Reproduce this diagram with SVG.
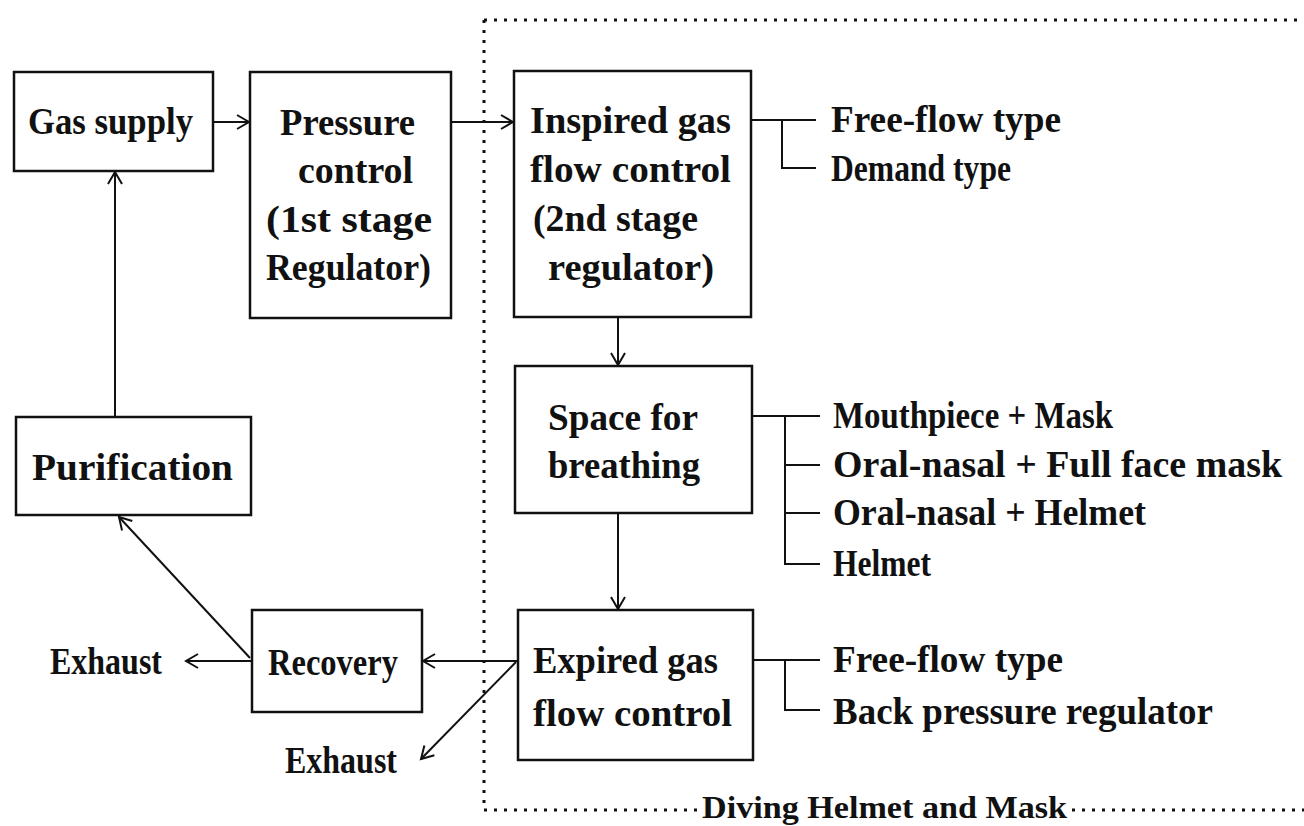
<svg xmlns="http://www.w3.org/2000/svg" width="1304" height="826" viewBox="0 0 1304 826">
<style>
.box{fill:none;stroke:#111;stroke-width:2.5}
.con{fill:none;stroke:#111;stroke-width:2}
.dot{fill:none;stroke:#111;stroke-width:3;stroke-dasharray:3 7}
text{font-family:"Liberation Serif","DejaVu Serif",serif;font-weight:bold;font-size:37px;fill:#111}
.cap{font-size:32px}
</style>
<defs>
<marker id="ah" markerUnits="userSpaceOnUse" markerWidth="16" markerHeight="18" refX="13" refY="8" orient="auto">
<path d="M1,1 L13,8 L1,15" fill="none" stroke="#111" stroke-width="2"/>
</marker>
</defs>
<rect width="1304" height="826" fill="#fff"/>
<g id="boundary">
<path class="dot" d="M484,20 H1304"/>
<path class="dot" d="M484,20 V810"/>
<path class="dot" d="M484,810 H698"/>
<path class="dot" d="M1072,810 H1304"/>
<text class="cap" x="702" y="818" textLength="365" lengthAdjust="spacingAndGlyphs">Diving Helmet and Mask</text>
</g>
<g id="connectors">
<line class="con" x1="213" y1="122" x2="249" y2="122" marker-end="url(#ah)"/>
<line class="con" x1="451" y1="122" x2="513" y2="122" marker-end="url(#ah)"/>
<line class="con" x1="618" y1="317" x2="618" y2="365" marker-end="url(#ah)"/>
<line class="con" x1="618" y1="513" x2="618" y2="609" marker-end="url(#ah)"/>
<line class="con" x1="517" y1="661" x2="423" y2="661" marker-end="url(#ah)"/>
<line class="con" x1="252" y1="661" x2="186" y2="661" marker-end="url(#ah)"/>
<line class="con" x1="516" y1="662" x2="421" y2="759" marker-end="url(#ah)"/>
<line class="con" x1="250" y1="658" x2="119" y2="517" marker-end="url(#ah)"/>
<line class="con" x1="115" y1="417" x2="115" y2="172" marker-end="url(#ah)"/>
<path class="con" d="M751,120 H816 M782,120 V168 H816"/>
<path class="con" d="M752,416 H820 M785,416 V564 H820 M785,465 H820 M785,513 H820"/>
<path class="con" d="M753,660 H820 M785,660 V710 H820"/>
</g>
<g id="gas-supply">
<rect class="box" x="14" y="72" width="199" height="99"/>
<text x="28" y="134" textLength="165" lengthAdjust="spacingAndGlyphs">Gas supply</text>
</g>
<g id="pressure-control">
<rect class="box" x="250" y="72" width="201" height="246"/>
<text x="280" y="135" textLength="135" lengthAdjust="spacingAndGlyphs">Pressure</text>
<text x="298" y="183" textLength="115" lengthAdjust="spacingAndGlyphs">control</text>
<text x="266" y="232" textLength="166" lengthAdjust="spacingAndGlyphs">(1st stage</text>
<text x="266" y="280" textLength="165" lengthAdjust="spacingAndGlyphs">Regulator)</text>
</g>
<g id="inspired-gas">
<rect class="box" x="514" y="71" width="237" height="246"/>
<text x="530" y="133" textLength="201" lengthAdjust="spacingAndGlyphs">Inspired gas</text>
<text x="530" y="182" textLength="201" lengthAdjust="spacingAndGlyphs">flow control</text>
<text x="533" y="231" textLength="165" lengthAdjust="spacingAndGlyphs">(2nd stage</text>
<text x="548" y="280" textLength="166" lengthAdjust="spacingAndGlyphs">regulator)</text>
</g>
<g id="inspired-types">
<text x="831" y="132" textLength="230" lengthAdjust="spacingAndGlyphs">Free-flow type</text>
<text x="831" y="181" textLength="180" lengthAdjust="spacingAndGlyphs">Demand type</text>
</g>
<g id="space-breathing">
<rect class="box" x="515" y="366" width="237" height="147"/>
<text x="548" y="430" textLength="150" lengthAdjust="spacingAndGlyphs">Space for</text>
<text x="548" y="478" textLength="152" lengthAdjust="spacingAndGlyphs">breathing</text>
</g>
<g id="space-types">
<text x="833" y="428" textLength="280" lengthAdjust="spacingAndGlyphs">Mouthpiece + Mask</text>
<text x="833" y="477" textLength="449" lengthAdjust="spacingAndGlyphs">Oral-nasal + Full face mask</text>
<text x="833" y="525" textLength="313" lengthAdjust="spacingAndGlyphs">Oral-nasal + Helmet</text>
<text x="833" y="576" textLength="98" lengthAdjust="spacingAndGlyphs">Helmet</text>
</g>
<g id="expired-gas">
<rect class="box" x="518" y="610" width="235" height="150"/>
<text x="533" y="673" textLength="185" lengthAdjust="spacingAndGlyphs">Expired gas</text>
<text x="533" y="726" textLength="199" lengthAdjust="spacingAndGlyphs">flow control</text>
</g>
<g id="expired-types">
<text x="833" y="672" textLength="230" lengthAdjust="spacingAndGlyphs">Free-flow type</text>
<text x="833" y="724" textLength="380" lengthAdjust="spacingAndGlyphs">Back pressure regulator</text>
</g>
<g id="recovery">
<rect class="box" x="252" y="610" width="170" height="102"/>
<text x="268" y="675" textLength="130" lengthAdjust="spacingAndGlyphs">Recovery</text>
</g>
<g id="exhaust-left">
<text x="50" y="674" textLength="112" lengthAdjust="spacingAndGlyphs">Exhaust</text>
</g>
<g id="exhaust-bottom">
<text x="285" y="773" textLength="112" lengthAdjust="spacingAndGlyphs">Exhaust</text>
</g>
<g id="purification">
<rect class="box" x="16" y="417" width="235" height="98"/>
<text x="32" y="480" textLength="201" lengthAdjust="spacingAndGlyphs">Purification</text>
</g>
</svg>
